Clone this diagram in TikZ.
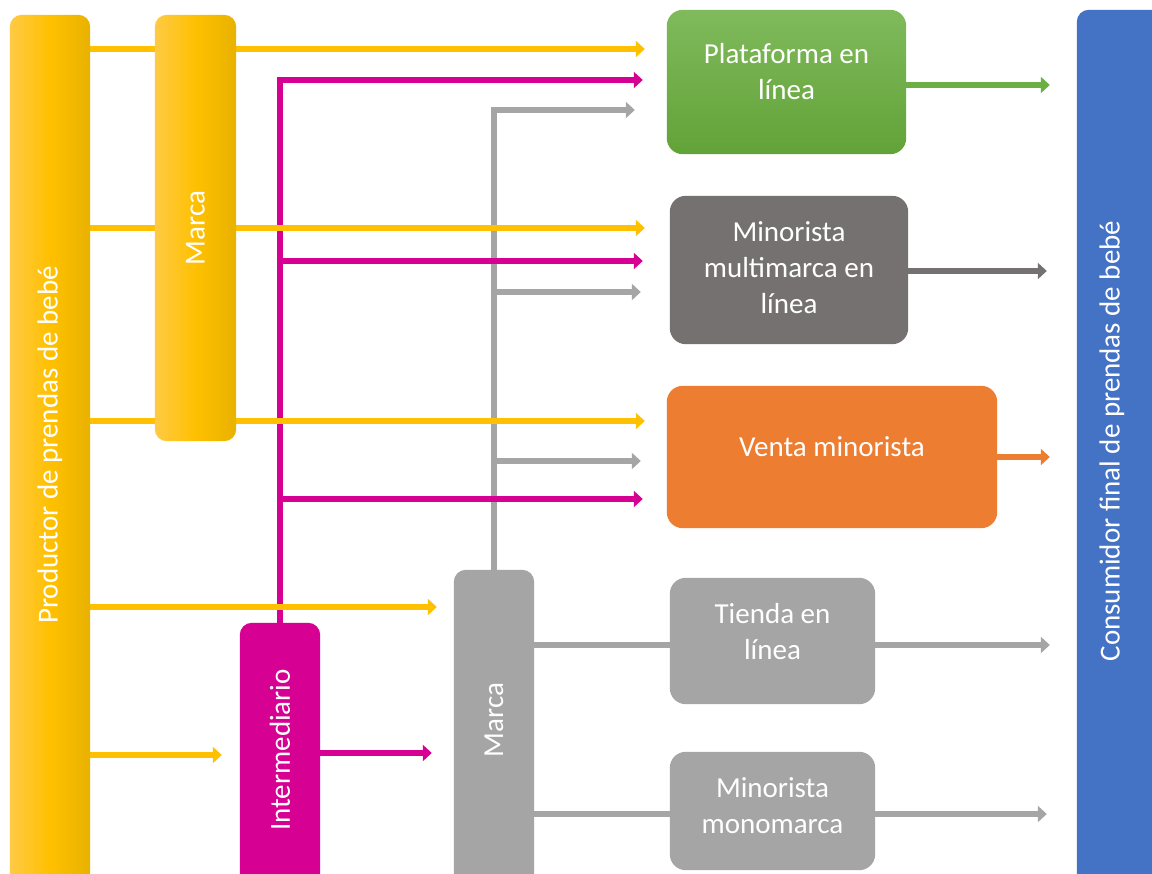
\documentclass[tikz,border=0pt]{standalone}
\usepackage{fontspec}
\setmainfont{Carlito}
\usetikzlibrary{arrows.meta}
\definecolor{cyel}{HTML}{FFC000}
\definecolor{cyell}{HTML}{FFCA45}
\definecolor{cyeld}{HTML}{E8B200}
\definecolor{cmag}{HTML}{D60093}
\definecolor{cgray}{HTML}{A5A5A5}
\definecolor{cdgray}{HTML}{767171}
\definecolor{cgrt}{HTML}{80BA5C}
\definecolor{cgrb}{HTML}{62A338}
\definecolor{cgr}{HTML}{6BAF45}
\definecolor{corg}{HTML}{ED7D31}
\definecolor{cblue}{HTML}{4472C4}
\begin{document}
\begin{tikzpicture}[x=1pt,y=-1pt,
  txt/.style={text=white,font=\fontsize{29}{36}\selectfont,align=center,inner sep=0pt},
  vtxt/.style={txt,rotate=90},
  bar/.style={draw=none,rounded corners=12pt,inner sep=0pt},
  ybar/.style={bar,left color=cyell,right color=cyeld,middle color=cyel},
  rbox/.style={draw=none,rounded corners=16pt,inner sep=0pt},
  ln/.style={line width=6pt},
  tip/.style={-{Triangle[length=9pt,width=16pt]}},
]
\useasboundingbox (0,0) rectangle (1152,874);
\clip (0,0) rectangle (1152,874);
\fill[white] (0,0) rectangle (1152,874);

% named box nodes (drawn later visually on top via layering order below)
\path
 (50,450)      node[minimum width=80pt,minimum height=870pt] (prod) {}
 (195.5,228)   node[minimum width=81pt,minimum height=426pt] (marca1) {}
 (280,754)     node[minimum width=80pt,minimum height=262pt] (inter) {}
 (494,727.5)   node[minimum width=80pt,minimum height=315pt] (marca2) {}
 (1121,447.5)  node[minimum width=88pt,minimum height=875pt] (cons) {}
 (786.5,82)    node[minimum width=239pt,minimum height=144pt] (plat) {}
 (789,270)     node[minimum width=238pt,minimum height=148pt] (multi) {}
 (832,457)     node[minimum width=330pt,minimum height=142pt] (venta) {}
 (772.5,641)   node[minimum width=205pt,minimum height=126pt] (tienda) {}
 (772.5,811)   node[minimum width=205pt,minimum height=118pt] (mono) {};

% gray connectors
\draw[ln,cgray,line join=miter,tip] (marca2.north) -- (marca2.north |- 0,110) -- ([xshift=-32pt]plat.west |- 0,110);
\draw[ln,cgray,tip] (marca2.north |- 0,292) -- ([xshift=-29pt]multi.west |- 0,292);
\draw[ln,cgray,tip] (marca2.north |- 0,461) -- ([xshift=-26pt]venta.west |- 0,461);
\draw[ln,cgray] (marca2.east |- 0,645) -- (tienda.west |- 0,645);
\draw[ln,cgray] (marca2.east |- 0,814) -- (mono.west |- 0,814);

% magenta connectors
\draw[ln,cmag,line join=miter,tip] (inter.north) -- (inter.north |- 0,80) -- ([xshift=-24pt]plat.west |- 0,80);
\draw[ln,cmag,tip] (inter.north |- 0,261) -- ([xshift=-27pt]multi.west |- 0,261);
\draw[ln,cmag,tip] (inter.north |- 0,499) -- ([xshift=-24pt]venta.west |- 0,499);
\draw[ln,cmag,tip] (inter.east |- 0,753) -- ([xshift=-22pt]marca2.west |- 0,753);

% yellow connectors
\draw[ln,cyel,tip] (prod.east |- 0,49) -- ([xshift=-22pt]plat.west |- 0,49);
\draw[ln,cyel,tip] (prod.east |- 0,228) -- ([xshift=-25pt]multi.west |- 0,228);
\draw[ln,cyel,tip] (prod.east |- 0,421) -- ([xshift=-22pt]venta.west |- 0,421);
\draw[ln,cyel,tip] (prod.east |- 0,607) -- ([xshift=-17pt]marca2.west |- 0,607);
\draw[ln,cyel,tip] (prod.east |- 0,755) -- ([xshift=-18pt]inter.west |- 0,755);

% output connectors
\draw[ln,cgr,tip] (plat.east |- 0,85) -- ([xshift=-27pt]cons.west |- 0,85);
\draw[ln,cdgray,tip] (multi.east |- 0,271) -- ([xshift=-30pt]cons.west |- 0,271);
\draw[ln,corg,tip] (venta.east |- 0,457) -- ([xshift=-27pt]cons.west |- 0,457);
\draw[ln,cgray,tip] (tienda.east |- 0,645) -- ([xshift=-27pt]cons.west |- 0,645);
\draw[ln,cgray,tip] (mono.east |- 0,814) -- ([xshift=-30pt]cons.west |- 0,814);

% shapes
\path[ybar] (prod.south west) rectangle (prod.north east);
\path[ybar] (marca1.south west) rectangle (marca1.north east);
\path[bar,fill=cmag] (inter.south west) rectangle (inter.north east);
\path[bar,fill=cgray] (marca2.south west) rectangle (marca2.north east);
\path[bar,fill=cblue] (cons.south west) rectangle (cons.north east);
\path[rbox,top color=cgrt,bottom color=cgrb] (plat.south west) rectangle (plat.north east);
\path[rbox,fill=cdgray] (multi.south west) rectangle (multi.north east);
\path[rbox,fill=corg] (venta.south west) rectangle (venta.north east);
\path[rbox,fill=cgray] (tienda.south west) rectangle (tienda.north east);
\path[rbox,fill=cgray] (mono.south west) rectangle (mono.north east);

% texts
\node[vtxt] (prodt) at (50,445) {Productor de prendas de bebé};
\node[vtxt] (marca1t) at (195.5,228) {Marca};
\node[vtxt] (intert) at (280,750) {Intermediario};
\node[vtxt] (marca2t) at (494,720) {Marca};
\node[vtxt] (const) at (1112,441) {Consumidor final de prendas de bebé};
\node[txt] (platt) at (786.5,72) {Plataforma en\\línea};
\node[txt] (multit) at (789,268) {Minorista\\multimarca en\\línea};
\node[txt] (ventat) at (832,447) {Venta minorista};
\node[txt] (tiendat) at (772.5,631.5) {Tienda en\\línea};
\node[txt] (monot) at (772.5,806) {Minorista\\monomarca};
\end{tikzpicture}
\end{document}
